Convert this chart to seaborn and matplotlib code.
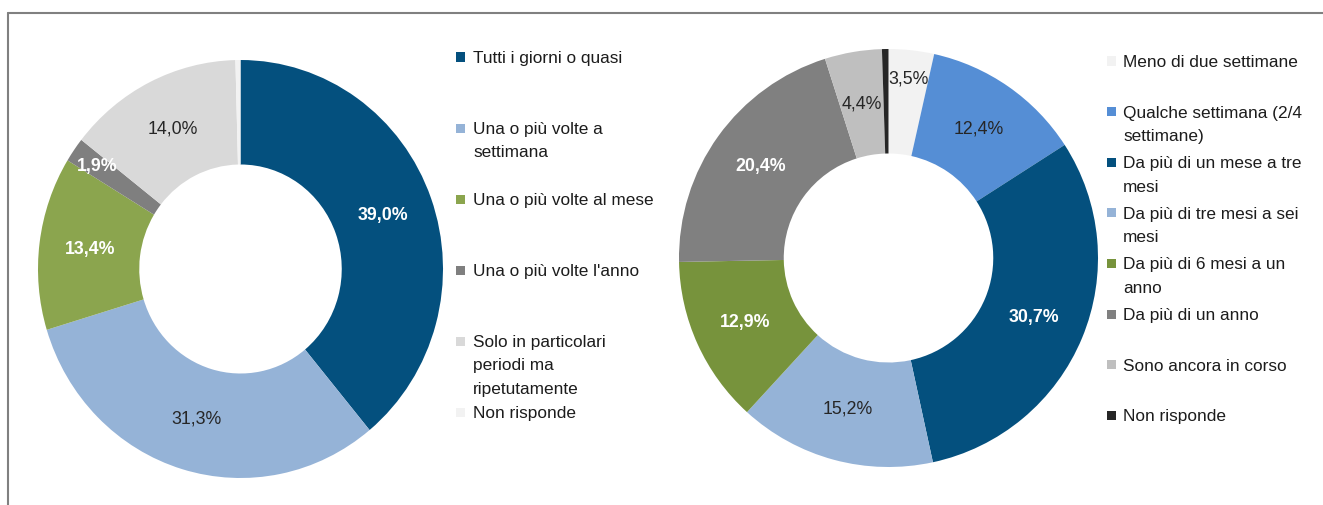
import numpy as np
import matplotlib
matplotlib.use("Agg")
import matplotlib.pyplot as plt
from matplotlib.patches import Rectangle
from matplotlib.lines import Line2D
import seaborn as sns

# ---- data -------------------------------------------------------------
freq_labels = [
    "Tutti i giorni o quasi",
    "Una o più volte a\nsettimana",
    "Una o più volte al mese",
    "Una o più volte l'anno",
    "Solo in particolari\nperiodi ma\nripetutamente",
    "Non risponde",
]
freq_values = [39.0, 31.3, 13.4, 1.9, 14.0, 0.4]

dur_labels = [
    "Meno di due settimane",
    "Qualche settimana (2/4\nsettimane)",
    "Da più di un mese a tre\nmesi",
    "Da più di tre mesi a sei\nmesi",
    "Da più di 6 mesi a un\nanno",
    "Da più di un anno",
    "Sono ancora in corso",
    "Non risponde",
]
dur_values = [3.5, 12.4, 30.7, 15.2, 12.9, 20.4, 4.4, 0.5]

# ---- style ------------------------------------------------------------
freq_colors = ["#04507E", "#95B3D7", "#8BA54E", "#7F7F7F", "#D9D9D9", "#F2F2F2"]
freq_text_white = [True, False, True, True, False, False]

dur_colors = ["#F2F2F2", "#558ED5", "#04507E", "#95B3D7", "#77933C",
              "#808080", "#BFBFBF", "#262626"]
dur_text_white = [False, False, True, False, True, True, False, False]

sns.set_theme(style="white")
plt.rcParams["font.family"] = ["Liberation Sans", "DejaVu Sans"]

W, H = 1323, 505
fig = plt.figure(figsize=(W / 100, H / 100), dpi=100)
fig.patch.set_facecolor("white")

TEXT = "#1c1c1c"
FS = 12.4
LINE_PITCH = 23.3


def px_axes(x0, y0, x1, y1):
    """Axes spanning a pixel box given with a top-left origin."""
    return fig.add_axes([x0 / W, 1 - y1 / H, (x1 - x0) / W, (y1 - y0) / H])


def donut(ax, values, colors, white_flags, label_r=0.75, min_label=1.0):
    wedges, _ = ax.pie(values, colors=colors, startangle=90, counterclock=False,
                       radius=1.0, wedgeprops=dict(width=0.5, linewidth=0))
    ax.set_aspect("auto")
    ax.set_xlim(-1, 1)
    ax.set_ylim(-1, 1)
    ax.axis("off")
    for w, v, wt in zip(wedges, values, white_flags):
        if v < min_label:
            continue
        ang = np.deg2rad((w.theta1 + w.theta2) / 2)
        r = label_r if v > 4 else 0.86
        txt = f"{v:.1f}%".replace(".", ",")
        ax.text(r * np.cos(ang), r * np.sin(ang), txt,
                ha="center", va="center", fontsize=12.8,
                color="white" if wt else "#262626",
                fontweight="bold" if wt else "normal")


def legend(labels, colors, x_box, x_text, y_first, pitch, box=9):
    for i, (lab, col) in enumerate(zip(labels, colors)):
        yc = y_first + i * pitch
        fig.add_artist(Rectangle((x_box / W, 1 - (yc + box / 2) / H),
                                 box / W, box / H, transform=fig.transFigure,
                                 facecolor=col, edgecolor="none"))
        for j, line in enumerate(lab.split("\n")):
            fig.text(x_text / W, 1 - (yc + j * LINE_PITCH) / H, line,
                     ha="left", va="center_baseline", fontsize=FS, color=TEXT)


ax_l = px_axes(38, 60, 443, 478)
donut(ax_l, freq_values, freq_colors, freq_text_white)

ax_r = px_axes(679, 49, 1098, 467)
donut(ax_r, dur_values, dur_colors, dur_text_white)

legend(freq_labels, freq_colors, 456, 473, 57, 71)
legend(dur_labels, dur_colors, 1107, 1123, 61, 50.6)

# outer frame
fig.add_artist(Line2D([7.5 / W, 1.0], [1 - 12.5 / H, 1 - 12.5 / H],
                      transform=fig.transFigure, color="#808080", lw=1.5))
fig.add_artist(Line2D([7.5 / W, 7.5 / W], [0.0, 1 - 12.5 / H],
                      transform=fig.transFigure, color="#808080", lw=1.5))

fig.savefig("out.png", dpi=100, facecolor="white")
